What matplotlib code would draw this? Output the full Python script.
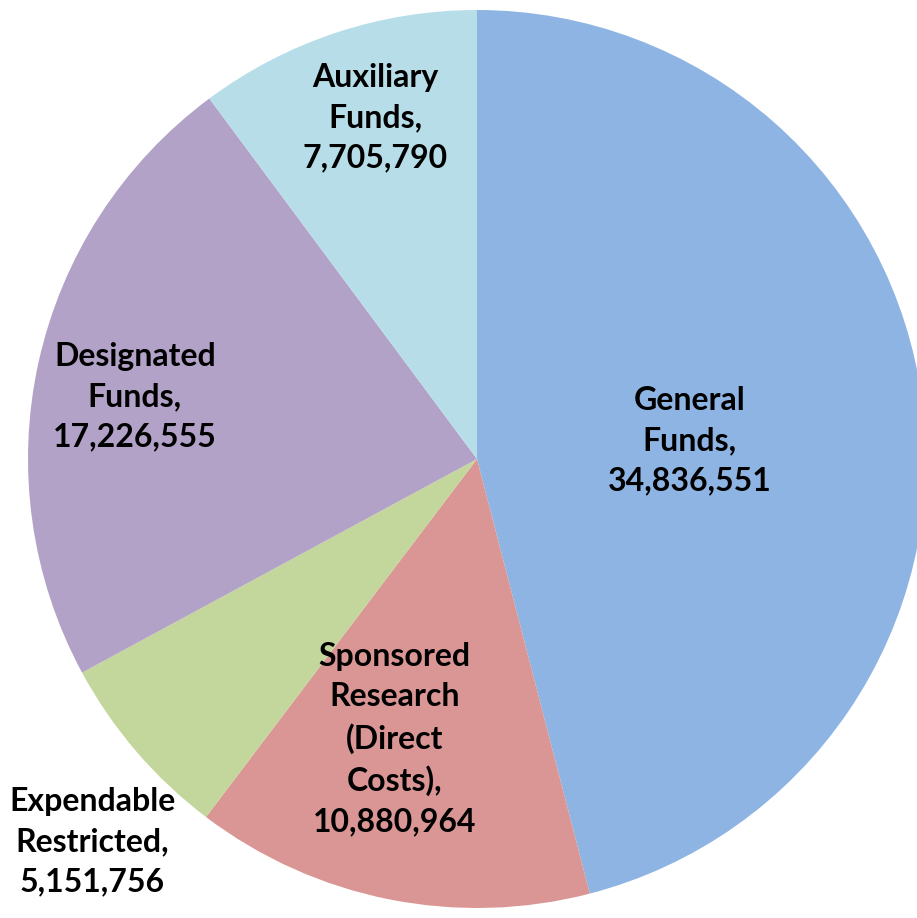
import matplotlib
matplotlib.use("Agg")
import matplotlib.pyplot as plt
import numpy as np

# Fund sources, clockwise from 12 o'clock
categories = ["General\nFunds", "Sponsored\nResearch\n(Direct\nCosts)",
              "Expendable\nRestricted", "Designated\nFunds", "Auxiliary\nFunds"]
values = [34836551, 10880964, 5151756, 17226555, 7705790]
colors = ["#8EB4E3", "#D99694", "#C3D69B", "#B3A2C7", "#B7DEE8"]

# Label anchor positions (in units of pie radius, relative to centre)
label_pos = [(0.474, 0.040), (-0.183, -0.624), (-0.857, -0.853),
             (-0.762, 0.139), (-0.227, 0.760)]

fig = plt.figure(figsize=(9.17, 9.18), dpi=100)
ax = fig.add_axes([0, 0, 1, 1])
ax.pie(values, colors=colors, startangle=90, counterclock=False,
       radius=1.0, center=(0, 0), wedgeprops=dict(linewidth=0))

for name, val, (x, y) in zip(categories, values, label_pos):
    ax.text(x, y, f"{name},\n{val:,}", ha="center", va="center",
            fontsize=23, fontweight="bold", family="Lato",
            linespacing=1.46, color="black")

ax.set_xlim(-477 / 449, 440 / 449)
ax.set_ylim(-459 / 449, 459 / 449)
ax.set_aspect("auto")
ax.axis("off")
fig.savefig("out.png", dpi=100)
